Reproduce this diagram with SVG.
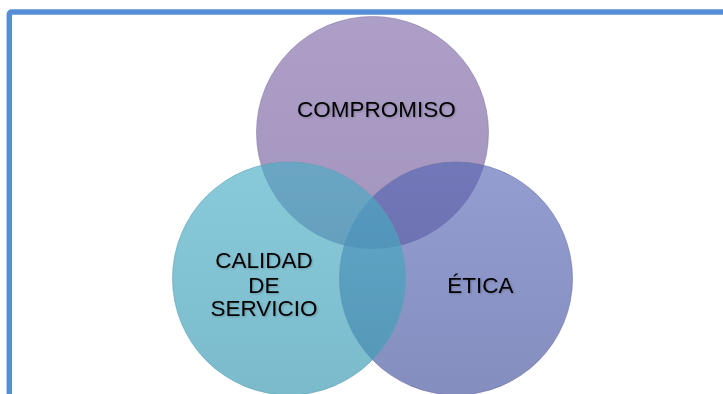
<svg xmlns="http://www.w3.org/2000/svg" width="723" height="394" viewBox="0 0 723 394">
  <style>
    .lbl { font-family: "Liberation Sans", Arial, sans-serif; font-size: 22.5px; fill: #000; text-anchor: middle; }
    .c { stroke-width: 1; }
  </style>
  <defs>
    <linearGradient id="gP" x1="0" y1="0" x2="0" y2="1">
      <stop offset="0" stop-color="#7e68a8" stop-opacity="0.64"/>
      <stop offset="1" stop-color="#735e9c" stop-opacity="0.66"/>
    </linearGradient>
    <linearGradient id="gB" x1="0" y1="0" x2="0" y2="1">
      <stop offset="0" stop-color="#5464b4" stop-opacity="0.63"/>
      <stop offset="1" stop-color="#4a58a0" stop-opacity="0.68"/>
    </linearGradient>
    <linearGradient id="gT" x1="0" y1="0" x2="0" y2="1">
      <stop offset="0" stop-color="#4aaec6" stop-opacity="0.65"/>
      <stop offset="1" stop-color="#3c9ab2" stop-opacity="0.68"/>
    </linearGradient>
    <filter id="ts" x="-10%" y="-30%" width="120%" height="160%">
      <feGaussianBlur in="SourceAlpha" stdDeviation="1.2"/>
      <feOffset dx="0.5" dy="1" result="b"/>
      <feComponentTransfer><feFuncA type="linear" slope="0.22"/></feComponentTransfer>
      <feMerge><feMergeNode/><feMergeNode in="SourceGraphic"/></feMerge>
    </filter>
  </defs>
  <rect width="723" height="394" fill="#ffffff"/>
  <path d="M9.3 394 V15 Q9.3 11.9 12.4 11.9 H723" fill="none" stroke="#558ed5" stroke-width="5.5"/>
  <g id="compromiso">
    <circle class="c" cx="372.5" cy="132.5" r="116" fill="url(#gP)" stroke="#8a7aa8" stroke-opacity="0.6"/>
    <text class="lbl" x="376.5" y="116.5" filter="url(#ts)">COMPROMISO</text>
  </g>
  <g id="etica">
    <circle class="c" cx="456" cy="278.5" r="116.5" fill="url(#gB)" stroke="#6a72a8" stroke-opacity="0.6"/>
    <text class="lbl" x="480.5" y="292.5" filter="url(#ts)">ÉTICA</text>
  </g>
  <g id="calidad">
    <circle class="c" cx="289" cy="278.5" r="116.5" fill="url(#gT)" stroke="#5a9fb4" stroke-opacity="0.6"/>
    <text class="lbl" x="264" y="268" filter="url(#ts)">CALIDAD<tspan x="264" dy="24.5">DE</tspan><tspan x="264" dy="23.5">SERVICIO</tspan></text>
  </g>
  <g id="connectors"/>
</svg>
